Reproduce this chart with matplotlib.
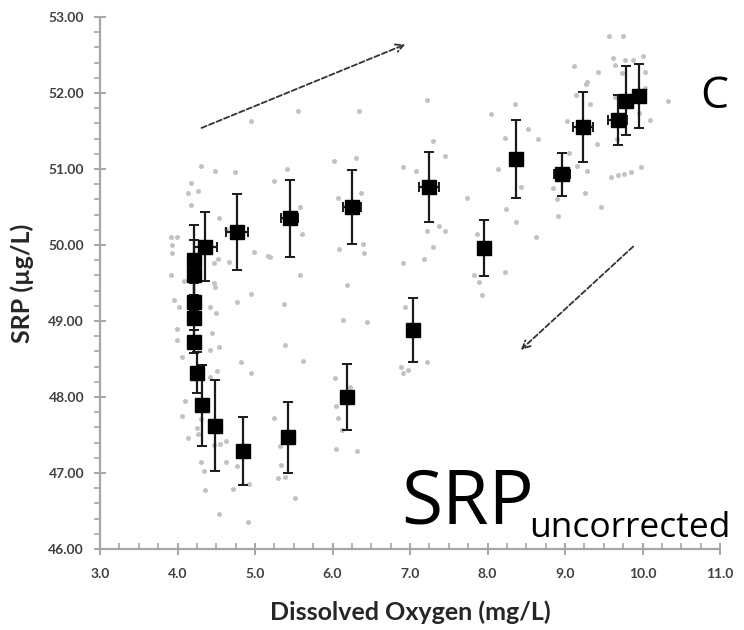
import matplotlib
matplotlib.use('Agg')
import matplotlib.pyplot as plt
from matplotlib.ticker import MultipleLocator, FormatStrFormatter

# ---- mean values with error bars (black squares) ----
do_mean = [4.21, 4.21, 4.21, 4.21, 4.21, 4.25, 4.32, 4.49, 4.84, 5.42, 6.19, 7.04,
           7.95, 8.96, 9.23, 9.68, 9.79, 9.95, 8.37, 7.25, 6.25, 5.45, 4.77, 4.36]
srp_mean = [49.80, 49.61, 49.25, 49.04, 48.73, 48.32, 47.89, 47.62, 47.29, 47.47, 48.00, 48.88,
            49.96, 50.93, 51.55, 51.64, 51.90, 51.96, 51.13, 50.76, 50.50, 50.35, 50.17, 49.98]
srp_err = [0.46, 0.46, 0.25, 0.25, 0.15, 0.27, 0.53, 0.60, 0.45, 0.47, 0.43, 0.42,
           0.37, 0.28, 0.46, 0.33, 0.45, 0.42, 0.51, 0.46, 0.49, 0.51, 0.50, 0.46]
do_err = [0.08, 0.05, 0.05, 0.08, 0.05, 0.05, 0.05, 0.05, 0.05, 0.06, 0.06, 0.08,
          0.06, 0.10, 0.13, 0.12, 0.06, 0.06, 0.06, 0.13, 0.12, 0.11, 0.14, 0.15]

# ---- individual measurements (grey dots) ----
raw_do = [4.30, 4.48, 4.74, 4.17, 4.14, 4.27, 4.17, 4.54, 3.91, 3.99, 3.93, 3.93,
          4.62, 4.99, 4.47, 4.52, 4.67, 3.92, 4.08, 4.47, 4.48, 4.95, 3.95, 4.02,
          4.42, 4.50, 4.77, 3.99, 3.99, 4.45, 4.42, 4.54, 4.06, 4.82, 4.95, 4.51,
          4.10, 4.06, 4.42, 4.14, 5.17,
          5.24, 5.41, 6.02, 5.58, 5.60, 5.19, 5.58, 6.07, 6.08, 6.19, 5.37, 6.13,
          5.39, 5.62, 6.03, 5.24, 6.05, 6.07, 6.12, 6.05, 5.34, 5.30, 5.39, 4.62,
          4.30, 4.34, 4.36, 4.71, 4.92, 5.52, 4.55, 4.47, 4.30, 4.25,
          4.77, 4.54, 4.91, 5.32, 4.62, 4.27,
          6.34, 7.22, 8.35, 8.05, 8.52, 8.65, 8.22, 7.30, 7.45, 6.30, 6.91, 7.08,
          8.13, 6.37, 7.74, 8.43, 8.24, 8.37, 8.62, 7.22, 7.37, 7.45, 7.30, 7.18,
          6.91, 6.39, 6.41, 7.87, 7.82, 7.89, 7.93, 8.22,
          9.03, 9.32, 9.05, 9.16, 9.28, 8.84, 8.90, 8.91, 9.26, 9.46, 9.41, 9.59,
          9.68, 9.76, 9.85, 9.98, 10.10, 10.33,
          6.93, 6.89, 6.91, 6.97, 7.22, 6.44, 6.23, 6.32,
          9.57, 9.75, 9.11, 9.42, 9.62, 9.64, 9.78, 9.88, 10.01, 9.74, 10.03, 9.29,
          9.27, 9.14, 9.65, 10.03, 9.67, 9.95,
          4.95, 5.56]
raw_srp = [51.04, 50.98, 50.96, 50.82, 50.69, 50.71, 50.52, 50.36, 50.10, 50.10, 50.00, 49.90,
           50.21, 49.91, 49.76, 49.81, 49.77, 49.61, 49.52, 49.50, 49.45, 49.36, 49.28, 49.19,
           49.19, 49.10, 49.25, 48.90, 48.75, 48.84, 48.62, 48.66, 48.53, 48.46, 48.32, 48.34,
           47.95, 47.75, 48.26, 47.46, 49.85,
           50.84, 51.00, 51.11, 50.50, 50.14, 49.84, 49.61, 50.62, 49.95, 49.47, 49.23, 49.01,
           48.69, 48.47, 48.25, 47.73, 47.88, 47.73, 47.57, 47.31, 47.11, 46.94, 46.95, 47.14,
           47.14, 47.03, 46.77, 46.79, 46.86, 46.67, 47.38, 47.37, 47.71, 47.59,
           47.09, 46.46, 46.35, 47.36, 47.42, 47.51,
           51.76, 51.91, 51.85, 51.72, 51.52, 51.39, 51.41, 51.37, 51.17, 51.15, 51.02, 50.97,
           51.00, 50.69, 50.62, 50.76, 50.47, 50.30, 50.10, 50.19, 50.25, 50.19, 49.98, 49.82,
           49.76, 50.01, 49.90, 50.14, 49.61, 49.51, 49.34, 49.65,
           51.63, 51.85, 51.21, 51.04, 50.97, 50.75, 50.60, 50.38, 50.69, 50.50, 51.33, 50.89,
           50.92, 50.94, 50.96, 51.02, 51.65, 51.89,
           49.19, 48.40, 48.31, 48.36, 48.46, 48.99, 48.13, 47.29,
           52.75, 52.75, 52.36, 52.27, 52.46, 52.37, 52.44, 52.44, 52.49, 52.26, 52.28, 52.15,
           52.12, 51.97, 51.95, 52.06, 51.40, 51.74,
           51.63, 51.76]

# ---- trend arrows (data coords) ----
arrow_up = [(4.31, 51.54), (6.94, 52.64)]
arrow_down = [(9.88, 49.98), (8.43, 48.62)]

panel_letter = "C"
title_main = "SRP"
title_sub = "uncorrected"
x_label = "Dissolved Oxygen (mg/L)"
y_label = "SRP (µg/L)"

fig = plt.figure(figsize=(7.44, 6.3), dpi=100)
ax = fig.add_axes([100 / 744, 81 / 630, 620 / 744, 532 / 630])

ax.plot(raw_do, raw_srp, 'o', ms=3.6, color='#c2c2c2', mec='none', zorder=1)
ax.errorbar(do_mean, srp_mean, yerr=srp_err, xerr=do_err, fmt='s', ms=10,
            color='black', ecolor='#1a1a1a', elinewidth=1.6, capsize=3.5,
            capthick=1.4, zorder=3)

for (x0, y0), (x1, y1) in [arrow_up, arrow_down]:
    ax.annotate('', xy=(x1, y1), xytext=(x0, y0),
                arrowprops=dict(arrowstyle='->', linestyle=(0, (3, 1.5)),
                                color='#333333', lw=1.3, shrinkA=0, shrinkB=0,
                                mutation_scale=14))

ax.set_xlim(3.0, 11.0)
ax.set_ylim(46.0, 53.0)
ax.xaxis.set_major_locator(MultipleLocator(1.0))
ax.xaxis.set_minor_locator(MultipleLocator(0.25))
ax.yaxis.set_major_locator(MultipleLocator(1.0))
ax.yaxis.set_minor_locator(MultipleLocator(0.2))
ax.xaxis.set_major_formatter(FormatStrFormatter('%.1f'))
ax.yaxis.set_major_formatter(FormatStrFormatter('%.2f'))

for s in ['top', 'right']:
    ax.spines[s].set_visible(False)
for s in ['left', 'bottom']:
    ax.spines[s].set_color('#a6a6a6')
    ax.spines[s].set_linewidth(1.6)

ax.tick_params(which='major', direction='inout', length=9, width=1.4, color='#a6a6a6')
ax.tick_params(axis='y', which='minor', direction='out', length=4, width=1.2, color='#a6a6a6')
ax.tick_params(axis='x', which='minor', direction='in', length=4, width=1.2, color='#a6a6a6')
ax.tick_params(axis='y', which='major', pad=7)
ax.tick_params(axis='x', which='major', pad=9)
for lab in ax.get_xticklabels() + ax.get_yticklabels():
    lab.set_fontfamily('Lato')
    lab.set_fontweight('bold')
    lab.set_fontsize(10)
    lab.set_color('#404040')

ax.set_xlabel(x_label, fontfamily='Lato', fontweight='bold', fontsize=18, labelpad=15, color='#262626')
ax.set_ylabel(y_label, fontfamily='Lato', fontweight='bold', fontsize=18, labelpad=10, color='#262626')

fig.text(700 / 744, 1 - 108 / 630, panel_letter, fontfamily='Open Sans', fontsize=32, color='black')
fig.text(401 / 744, 1 - 523 / 630, title_main, fontfamily='Open Sans', fontsize=54, color='black',
         va='baseline', ha='left')
fig.text(529 / 744, 1 - 537 / 630, title_sub, fontfamily='Open Sans', fontsize=25.5, color='black',
         va='baseline', ha='left')

fig.savefig('out.png', dpi=100, facecolor='white')
